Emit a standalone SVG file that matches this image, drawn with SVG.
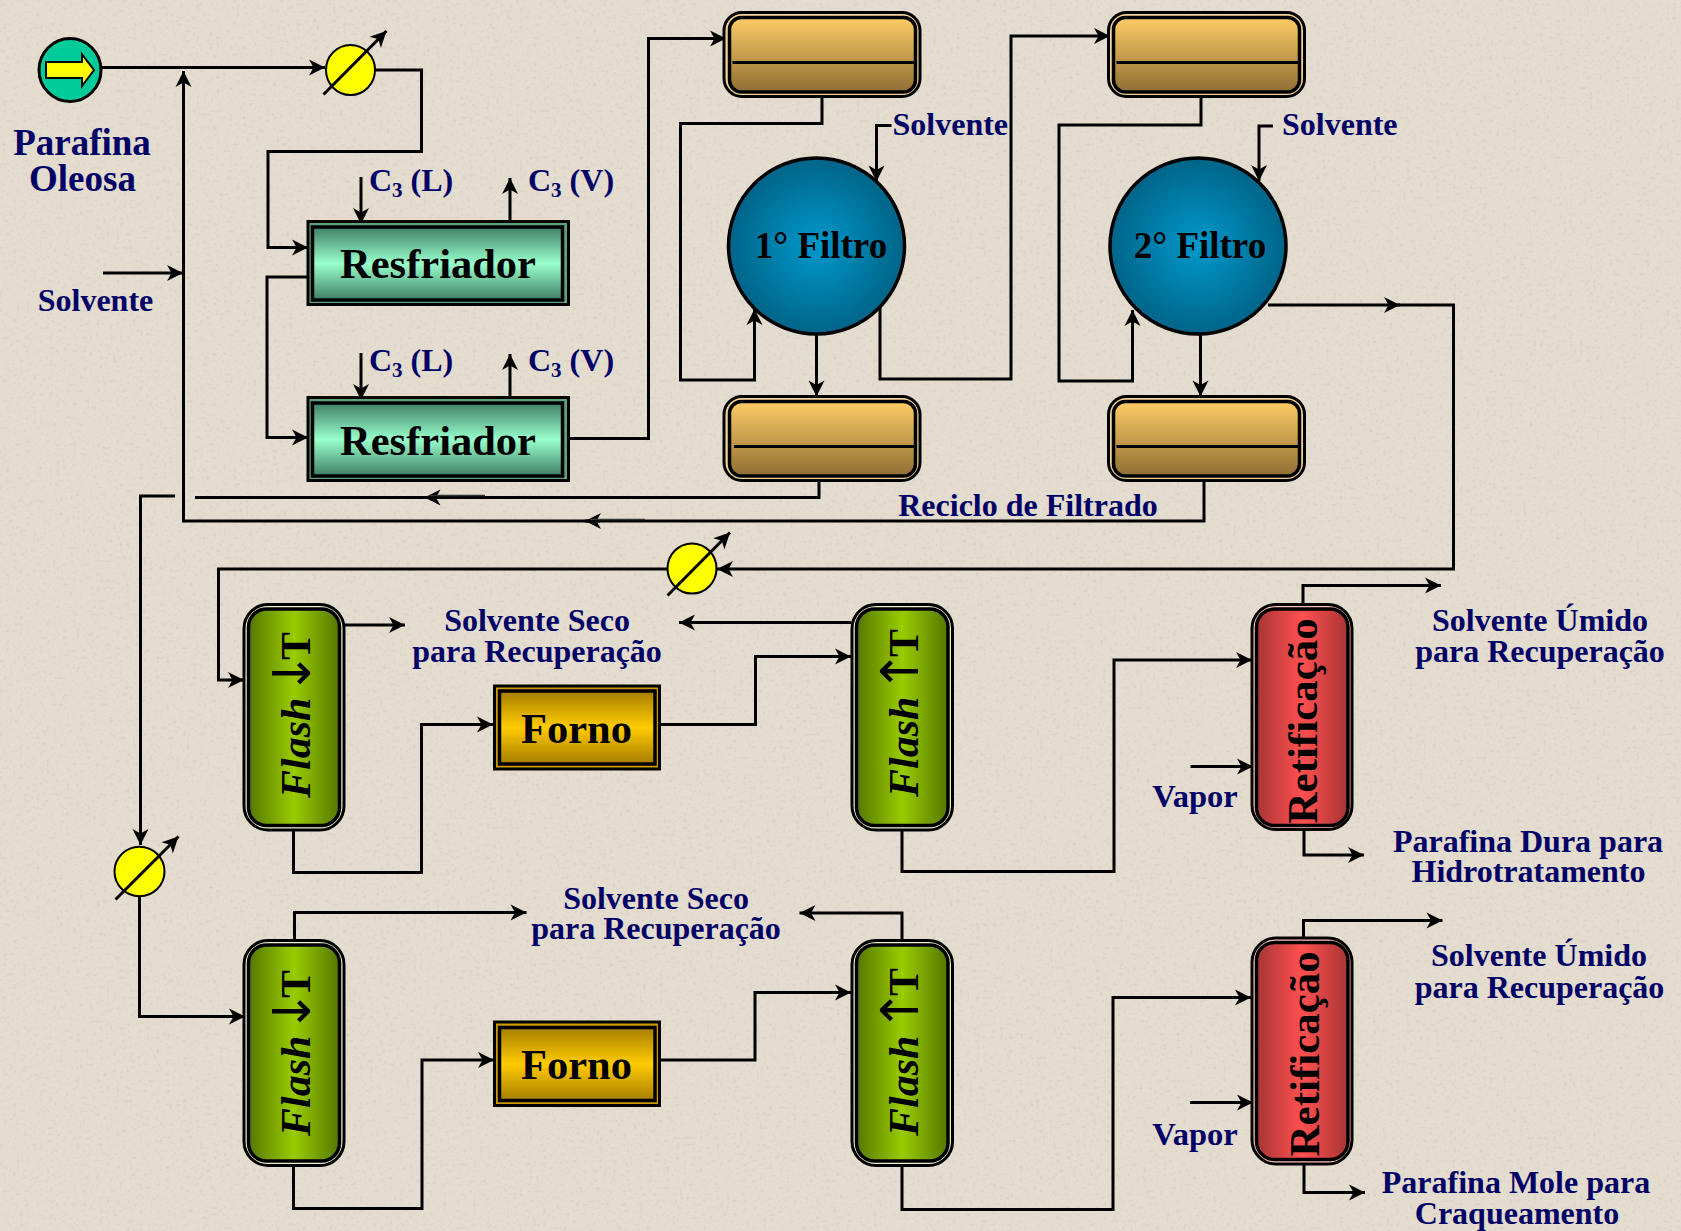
<svg xmlns="http://www.w3.org/2000/svg" width="1681" height="1231" viewBox="0 0 1681 1231">
<style>
text{font-family:"Liberation Serif","Times New Roman",serif;font-weight:bold}
.l{fill:#000066;font-size:32px;text-anchor:middle}
.vp{fill:#000066;font-size:32.5px;text-anchor:middle}
.ls{fill:#000066;font-size:32px}
.p{fill:#000066;font-size:37px;text-anchor:middle}
.n{fill:#000;font-size:42.5px;text-anchor:middle}
.v{fill:#000;font-size:42px}
.r{fill:#000;font-size:43px}
.f{fill:#000;font-size:37px;text-anchor:middle}
.i{font-style:italic}
.ar{font-family:"DejaVu Sans",sans-serif;font-weight:normal;font-size:52px}
.sub{font-size:21px}
.c{fill:none;stroke:#000;stroke-width:3}
.a{marker-end:url(#ah)}
.stub{fill:none;stroke:#333;stroke-width:1.5}
.o{stroke:#000;stroke-width:3}
.in{stroke:#000;stroke-width:3.5}
.hx{fill:#ff0;stroke:#000;stroke-width:2}
.tl{stroke:#000;stroke-width:3}
</style>
<defs>
<marker id="ah" markerUnits="userSpaceOnUse" markerWidth="20" markerHeight="20" refX="17" refY="10" orient="auto" viewBox="0 0 20 20"><path d="M17,10 L1,2 L5.5,10 L1,18 Z" fill="#000"/></marker>
<linearGradient id="gr" x1="0" y1="0" x2="0" y2="1"><stop offset="0" stop-color="#3f7f66"/><stop offset=".5" stop-color="#99ffcc"/><stop offset="1" stop-color="#3f7f66"/></linearGradient>
<linearGradient id="gt" x1="0" y1="0" x2="0" y2="1"><stop offset="0" stop-color="#ffcc66"/><stop offset="1" stop-color="#8f6f35"/></linearGradient>
<linearGradient id="gfo" x1="0" y1="0" x2="0" y2="1"><stop offset="0" stop-color="#a67c00"/><stop offset=".5" stop-color="#ffcc00"/><stop offset="1" stop-color="#a67c00"/></linearGradient>
<linearGradient id="gfl" x1="0" y1="0" x2="1" y2="0"><stop offset="0" stop-color="#557700"/><stop offset=".5" stop-color="#99cc00"/><stop offset="1" stop-color="#557700"/></linearGradient>
<linearGradient id="gre" x1="0" y1="0" x2="1" y2="0"><stop offset="0" stop-color="#a83434"/><stop offset=".5" stop-color="#ff5050"/><stop offset="1" stop-color="#a83434"/></linearGradient>
<radialGradient id="gfi"><stop offset="0" stop-color="#0099cc"/><stop offset="1" stop-color="#006488"/></radialGradient>
<filter id="tex" x="0" y="0" width="100%" height="100%">
<feTurbulence type="fractalNoise" baseFrequency="0.3" numOctaves="2" seed="11" result="n"/>
<feColorMatrix in="n" type="matrix" values="0 0 0 0 0.62 0 0 0 0 0.57 0 0 0 0 0.5 1.8 0 0 0 -1"/>
</filter>
</defs>
<g id="background">
<rect width="1681" height="1231" fill="#e3dccf"/>
<rect width="1681" height="1231" filter="url(#tex)"/>
</g>
<g id="connectors">
<path class="c a" d="M102,67.5H325"/>
<path class="c a" d="M375,70H421.5V151.5H268V247.5H308"/>
<path class="c a" d="M103,273H183"/>
<path class="c a" d="M1204,478V521H183.5V71"/>
<path class="c" d="M819,480V497.5H195"/>
<path class="c a" d="M600,521H585"/>
<path class="c a" d="M440,497.5H424.5"/>
<path class="stub" d="M645,519.5H590M485,495.5H430"/>
<path class="c a" d="M175,496H140.5V845"/>
<path class="c a" d="M139.5,896V1016.5H245"/>
<path class="c a" d="M361,177V224"/>
<path class="c a" d="M510,222V178"/>
<path class="c a" d="M361,353V400"/>
<path class="c a" d="M510,397V354"/>
<path class="c a" d="M308,277H267V437.5H308"/>
<path class="c a" d="M569,438.5H648.5V38.5H726"/>
<path class="c a" d="M822,98V123.5H680.5V380H754.5V309"/>
<path class="c a" d="M891.5,125.5H876.5V181.5"/>
<path class="c a" d="M816.5,335V396.5"/>
<path class="c a" d="M880,308V379H1011V36H1110"/>
<path class="c a" d="M1201,98V125H1059V381H1132.5V310"/>
<path class="c a" d="M1273,126H1259V181"/>
<path class="c a" d="M1200.5,335V396.5"/>
<path class="c a" d="M1268,305H1400"/>
<path class="c a" d="M1398,305H1453.5V569H717"/>
<path class="c a" d="M667.7,569H218.5V680H244"/>
<path class="c a" d="M344,625H405"/>
<path class="c a" d="M851,622.5H679"/>
<path class="c a" d="M293.5,831V872.5H421.5V724.5H493"/>
<path class="c a" d="M660,724.5H755.5V656.5H851"/>
<path class="c a" d="M902,831V871.5H1114V660H1252"/>
<path class="c a" d="M1303,603V585.5H1441"/>
<path class="c a" d="M1304,830V855H1364"/>
<path class="c a" d="M1190.5,766.5H1253"/>
<path class="c a" d="M294.5,939V912.5H526.5"/>
<path class="c a" d="M902,939V913H799.5"/>
<path class="c a" d="M293.5,1166V1208.5H422V1060H494"/>
<path class="c a" d="M660,1060H755V992.5H851"/>
<path class="c a" d="M902,1166V1209.5H1113V997.5H1251"/>
<path class="c a" d="M1303.5,937V920.5H1442.5"/>
<path class="c a" d="M1304,1165V1192.5H1365"/>
<path class="c a" d="M1190,1102.5H1253"/>
</g>
<g id="source"><ellipse cx="70" cy="70" rx="31" ry="31.5" fill="#00cc99" stroke="#000" stroke-width="3"/><path d="M46,62H82V54.5L94,70L82,86V78H46Z" fill="#ff0" stroke="#000" stroke-width="2"/></g>
<g id="hx1"><ellipse class="hx" cx="350.5" cy="70" rx="24.5" ry="25"/><path class="tl a" d="M323.5,94.5L386.5,31"/></g>
<g id="hx2"><ellipse class="hx" cx="692" cy="568.5" rx="24.5" ry="25"/><path class="tl a" d="M667.5,595.5L730,532.5"/></g>
<g id="hx3"><ellipse class="hx" cx="139.5" cy="871.5" rx="25" ry="24.7"/><path class="tl a" d="M115.5,899.5L178.5,836.5"/></g>
<g id="resfriador1"><rect class="o" x="308" y="221.5" width="260.5" height="83" fill="#5f9f80"/><rect class="in" x="312.5" y="227" width="250" height="73" fill="url(#gr)"/><text class="n" x="438" y="278">Resfriador</text></g>
<g id="resfriador2"><rect class="o" x="308" y="397.5" width="260.5" height="83" fill="#5f9f80"/><rect class="in" x="312.5" y="403" width="250" height="73" fill="url(#gr)"/><text class="n" x="438" y="454.5">Resfriador</text></g>
<g id="tank1"><rect class="o" x="724" y="12.5" width="196" height="84" rx="18" fill="#f2d59a"/><rect class="in" x="729.5" y="17.5" width="186" height="74.5" rx="12" fill="url(#gt)"/><path class="tl" d="M732.5,62.5H914.5"/></g>
<g id="tank2"><rect class="o" x="1108.5" y="12.5" width="196" height="84" rx="18" fill="#f2d59a"/><rect class="in" x="1113.5" y="17.5" width="186" height="74.5" rx="12" fill="url(#gt)"/><path class="tl" d="M1116.5,62.5H1299"/></g>
<g id="tank3"><rect class="o" x="724" y="396.5" width="196" height="84" rx="18" fill="#f2d59a"/><rect class="in" x="729.5" y="401.5" width="186" height="74.5" rx="12" fill="url(#gt)"/><path class="tl" d="M734,446.5H914.5"/></g>
<g id="tank4"><rect class="o" x="1108.5" y="396.5" width="196" height="84" rx="18" fill="#f2d59a"/><rect class="in" x="1113.5" y="401.5" width="186" height="74.5" rx="12" fill="url(#gt)"/><path class="tl" d="M1116.5,446.5H1299"/></g>
<g id="filtro1"><ellipse cx="816.5" cy="246" rx="88" ry="88" fill="url(#gfi)" stroke="#000" stroke-width="3.5"/><text class="f" x="821" y="257.5">1° Filtro</text></g>
<g id="filtro2"><ellipse cx="1198" cy="246" rx="88" ry="88" fill="url(#gfi)" stroke="#000" stroke-width="3.5"/><text class="f" x="1200" y="257.5">2° Filtro</text></g>
<g id="flash1"><rect class="o" x="244" y="604.5" width="100" height="225.5" rx="24" fill="#eef0cc"/><rect class="in" x="248.5" y="609" width="91" height="216.5" rx="18" fill="url(#gfl)"/><text class="v" transform="translate(309.5,798) rotate(-90)"><tspan class="i">Flash </tspan><tspan class="ar" x="103">↓</tspan><tspan x="138">T</tspan></text></g>
<g id="flash2"><rect class="o" x="852" y="604.5" width="100.5" height="225.5" rx="24" fill="#eef0cc"/><rect class="in" x="856.5" y="609" width="91.5" height="216.5" rx="18" fill="url(#gfl)"/><text class="v" transform="translate(917.5,797) rotate(-90)"><tspan class="i">Flash </tspan><tspan class="ar" x="104">↑</tspan><tspan x="140">T</tspan></text></g>
<g id="flash3"><rect class="o" x="244" y="940.5" width="100" height="225" rx="24" fill="#eef0cc"/><rect class="in" x="248.5" y="945" width="91" height="216" rx="18" fill="url(#gfl)"/><text class="v" transform="translate(309.5,1136) rotate(-90)"><tspan class="i">Flash </tspan><tspan class="ar" x="103">↓</tspan><tspan x="138">T</tspan></text></g>
<g id="flash4"><rect class="o" x="852" y="940.5" width="100.5" height="225" rx="24" fill="#eef0cc"/><rect class="in" x="856.5" y="945" width="91.5" height="216" rx="18" fill="url(#gfl)"/><text class="v" transform="translate(917.5,1136) rotate(-90)"><tspan class="i">Flash </tspan><tspan class="ar" x="104">↑</tspan><tspan x="140">T</tspan></text></g>
<g id="forno1"><rect class="o" x="494.5" y="686" width="165" height="83" fill="#cc9900"/><rect class="in" x="499.5" y="691" width="155.5" height="73" fill="url(#gfo)"/><text class="n" x="576.5" y="742.5">Forno</text></g>
<g id="forno2"><rect class="o" x="494.5" y="1022" width="165" height="83.5" fill="#cc9900"/><rect class="in" x="499.5" y="1027.5" width="155.5" height="73" fill="url(#gfo)"/><text class="n" x="576.5" y="1079">Forno</text></g>
<g id="retificacao1"><rect class="o" x="1252" y="604.5" width="100" height="225" rx="24" fill="#ffc4bc"/><rect class="in" x="1256.5" y="609" width="91.5" height="216.5" rx="18" fill="url(#gre)"/><text class="r" transform="translate(1317,823.5) rotate(-90)">Retificação</text></g>
<g id="retificacao2"><rect class="o" x="1252" y="938" width="100" height="226" rx="24" fill="#ffc4bc"/><rect class="in" x="1256.5" y="942.5" width="91.5" height="217" rx="18" fill="url(#gre)"/><text class="r" transform="translate(1319,1156.5) rotate(-90)">Retificação</text></g>
<g id="labels">
<text class="p" x="82" y="154.5">Parafina</text>
<text class="p" x="82.5" y="190.5">Oleosa</text>
<text class="l" x="95.5" y="311">Solvente</text>
<text class="ls" x="369" y="191">C<tspan class="sub" dy="6">3</tspan><tspan dy="-6"> (L)</tspan></text>
<text class="ls" x="528" y="191">C<tspan class="sub" dy="6">3</tspan><tspan dy="-6"> (V)</tspan></text>
<text class="ls" x="369" y="370.5">C<tspan class="sub" dy="6">3</tspan><tspan dy="-6"> (L)</tspan></text>
<text class="ls" x="528" y="370.5">C<tspan class="sub" dy="6">3</tspan><tspan dy="-6"> (V)</tspan></text>
<text class="ls" x="892.5" y="135">Solvente</text>
<text class="ls" x="1282" y="135">Solvente</text>
<text class="l" x="1028" y="515.5">Reciclo de Filtrado</text>
<text class="l" x="537" y="631">Solvente Seco</text>
<text class="l" x="537" y="661.5">para Recuperação</text>
<text class="l" x="656" y="908.5">Solvente Seco</text>
<text class="l" x="656" y="939">para Recuperação</text>
<text class="l" x="1540" y="630.5">Solvente Úmido</text>
<text class="l" x="1540" y="661.5">para Recuperação</text>
<text class="vp" x="1195" y="806.5">Vapor</text>
<text class="l" x="1528" y="852">Parafina Dura para</text>
<text class="l" x="1528.5" y="882">Hidrotratamento</text>
<text class="l" x="1539" y="966">Solvente Úmido</text>
<text class="l" x="1539.5" y="997.5">para Recuperação</text>
<text class="vp" x="1195" y="1145">Vapor</text>
<text class="l" x="1516" y="1193">Parafina Mole para</text>
<text class="l" x="1517" y="1224">Craqueamento</text>
</g>
</svg>
